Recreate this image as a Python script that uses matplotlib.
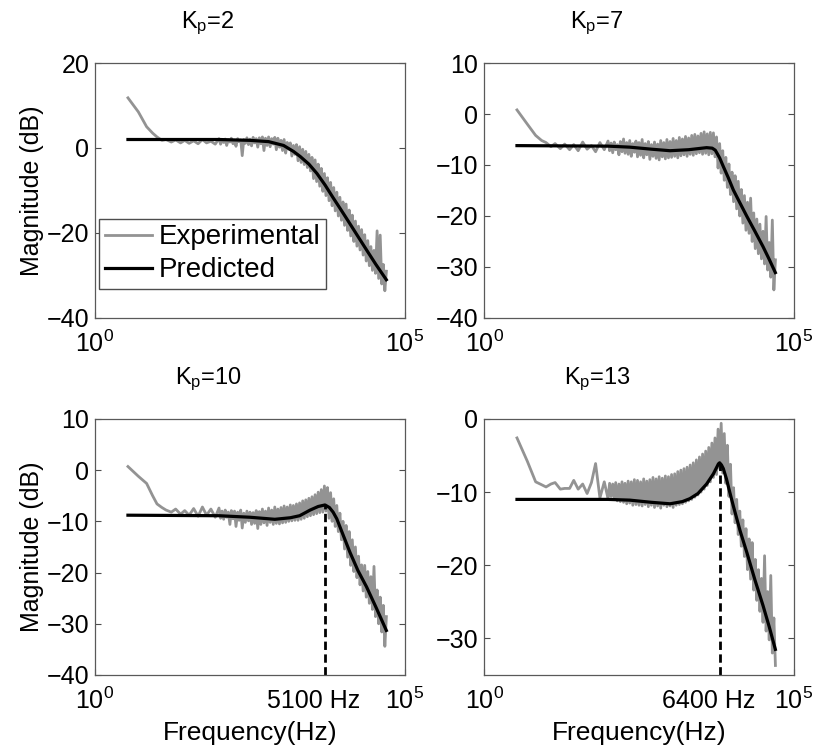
import matplotlib.pyplot as plt
from matplotlib.ticker import NullLocator
from matplotlib import transforms

plt.rcParams['font.family'] = ['Liberation Sans', 'DejaVu Sans']
plt.rcParams['mathtext.fontset'] = 'custom'
plt.rcParams['mathtext.rm'] = 'Liberation Sans'
plt.rcParams['mathtext.it'] = 'Liberation Sans:italic'

# frequency bins of the measured responses (Hz)
freq_exp = [3.4, 5, 6.8, 8.5, 10, 12, 14, 17, 20, 24, 28, 33, 39, 46, 54, 63, 74, 87,
            100, 106, 112, 119, 126, 133, 141, 150, 158, 168,
            178, 188, 200, 211, 224, 237, 251, 266, 282, 299,
            316, 335, 355, 376, 398, 422, 447, 473, 501, 531,
            562, 596, 631, 668, 708, 750, 794, 841, 891, 944,
            1000, 1059, 1122, 1189, 1259, 1334, 1413, 1496, 1585, 1679,
            1778, 1884, 1995, 2113, 2239, 2371, 2512, 2661, 2818, 2985,
            3162, 3350, 3548, 3758, 3981, 4217, 4467, 4732, 5012, 5309,
            5623, 5957, 6310, 6683, 7079, 7499, 7943, 8414, 8913, 9441,
            10000, 10593, 11220, 11885, 12589, 13335, 14125, 14962, 15849, 16788,
            17783, 18836, 19953, 21135, 22387, 23714, 25119, 26607, 28184, 29854,
            31623, 33497, 35481, 37584, 39811, 42170, 44668, 47315, 50119]

# measured magnitude (dB)
exp_kp2 = [11.8, 8.5, 5.0, 3.5, 2.6, 1.8, 2.0, 1.4, 1.9, 1.2, 1.8, 1.1, 1.7, 1.0, 2.0, 1.2, 1.6, 0.9,
           2.2, 0.9, 1.8, 1.3, 2.1, 0.6, 1.9, 1.4, 2.3, 1.0,
           1.7, 0.4, 2.2, 1.5, 1.9, -1.8, 2.0, 1.1, 2.4, 0.8,
           2.1, 0.5, 2.5, 1.2, 2.2, 0.2, 2.4, 1.0, 2.6, -0.6,
           2.3, 0.6, 2.6, 0.3, 2.2, 0.9, 2.5, -0.4, 2.3, 0.2,
           1.8, -0.6, 2.0, -1.2, 1.3, -0.3, 1.2, -1.9, 0.6, -1.5,
           0.8, -3.0, 0.3, -3.4, -0.3, -3.9, -0.8, -4.6, -1.5, -5.4,
           -2.2, -7.2, -2.8, -7.9, -3.8, -9.0, -4.8, -10.2, -6.0, -11.2,
           -7.0, -12.4, -8.1, -13.6, -9.3, -14.8, -10.4, -16.0, -11.6, -17.0,
           -12.7, -18.2, -13.2, -19.4, -14.6, -20.7, -15.8, -22.0, -17.2, -23.1,
           -18.4, -24.0, -19.2, -25.2, -20.4, -26.6, -21.8, -27.7, -23.2, -28.8,
           -24.1, -29.5, -19.5, -30.7, -20.5, -32.0, -27.4, -33.6, -29.0]
exp_kp7 = [0.8, -2.0, -4.2, -5.2, -5.6, -6.4, -5.8, -6.8, -5.9, -7.0, -6.0, -7.2, -5.5, -6.9, -6.2, -7.4, -5.6, -7.0,
           -5.3, -7.2, -5.7, -7.6, -5.5, -7.0, -6.0, -8.0, -5.4, -7.4,
           -4.9, -7.7, -5.6, -7.9, -5.2, -8.3, -5.8, -7.5, -5.3, -8.4,
           -5.6, -8.1, -5.0, -8.6, -5.8, -8.0, -5.4, -8.9, -6.0, -8.3,
           -5.5, -8.7, -5.9, -9.0, -5.2, -8.4, -5.6, -8.8, -5.0, -8.6,
           -5.4, -8.5, -4.8, -8.3, -5.2, -8.6, -4.6, -8.2, -4.9, -8.0,
           -4.4, -8.3, -4.7, -7.9, -4.2, -8.1, -4.0, -7.8, -4.3, -7.6,
           -3.8, -7.9, -3.5, -7.7, -3.9, -8.0, -3.6, -7.8, -3.7, -8.4,
           -4.5, -10.6, -5.8, -11.6, -7.2, -13.0, -8.5, -14.4, -9.8, -15.8,
           -11.4, -17.2, -12.1, -18.6, -13.2, -20.0, -14.8, -21.4, -16.0, -22.8,
           -17.3, -23.4, -16.5, -25.0, -19.4, -26.4, -20.6, -27.4, -21.6, -28.4,
           -23.0, -29.4, -20.1, -30.6, -25.2, -32.0, -20.8, -34.5, -28.6]
exp_kp10 = [0.7, -1.2, -2.6, -5.0, -6.6, -7.3, -7.8, -8.2, -7.6, -8.6, -7.9, -8.8, -7.5, -9.0, -7.2, -8.8, -7.6, -9.2,
            -7.4, -9.4, -8.0, -9.6, -7.8, -9.2, -8.2, -10.6, -7.9, -9.5,
            -8.0, -11.0, -8.2, -9.8, -7.8, -11.3, -8.4, -10.2, -8.0, -9.9,
            -8.2, -10.6, -8.3, -10.4, -7.9, -11.4, -8.1, -10.6, -7.6, -10.3,
            -8.0, -10.8, -7.4, -10.2, -7.8, -10.6, -7.2, -10.4, -7.6, -10.5,
            -7.3, -10.3, -7.0, -10.2, -7.2, -10.0, -6.8, -9.9, -6.9, -9.8,
            -6.6, -9.8, -6.4, -9.6, -6.0, -9.4, -5.8, -9.1, -5.5, -8.9,
            -5.2, -8.7, -4.8, -8.5, -4.3, -8.3, -3.8, -8.2, -3.1, -8.0,
            -3.4, -9.4, -4.4, -10.0, -5.6, -11.0, -6.9, -12.0, -8.4, -13.6,
            -10.0, -15.4, -10.8, -17.0, -12.0, -18.6, -13.6, -19.8, -15.0, -21.0,
            -16.8, -22.4, -18.5, -23.6, -18.6, -24.8, -19.8, -26.0, -20.8, -27.2,
            -18.8, -28.6, -23.4, -30.0, -24.8, -31.6, -26.4, -34.4, -28.6]
exp_kp13 = [-2.6, -5.8, -8.6, -9.0, -9.3, -8.9, -8.7, -9.6, -9.5, -9.5, -8.4, -9.6, -8.9, -10.2, -8.7, -6.1, -10.8, -8.6,
            -10.9, -8.8, -10.6, -8.9, -11.0, -8.7, -11.2, -8.9, -11.3, -8.6,
            -11.4, -8.8, -11.6, -8.5, -11.5, -8.6, -11.8, -8.3, -11.7, -8.4,
            -11.8, -8.6, -11.9, -8.2, -11.7, -8.5, -12.0, -8.3, -11.8, -8.0,
            -12.1, -8.2, -11.9, -7.9, -12.2, -8.1, -11.8, -7.8, -12.0, -7.9,
            -11.9, -7.6, -12.1, -7.5, -11.8, -7.2, -11.7, -7.0, -11.6, -6.8,
            -11.4, -6.6, -11.2, -6.3, -11.0, -6.0, -10.7, -5.6, -10.4, -5.2,
            -10.0, -4.8, -9.6, -4.4, -9.1, -3.9, -8.6, -3.3, -8.0, -2.6,
            -7.6, -1.4, -6.8, -0.6, -7.4, -2.0, -8.8, -3.6, -10.6, -6.2,
            -13.0, -9.4, -14.2, -11.0, -15.8, -12.6, -17.4, -13.8, -18.8, -15.0,
            -20.6, -16.4, -21.9, -16.9, -23.4, -19.2, -24.8, -20.6, -26.3, -21.8,
            -27.8, -18.7, -29.0, -23.6, -30.2, -21.4, -32.0, -27.2, -33.7]

# model prediction
pred_f_kp2 = [3.4, 100, 316, 631, 1100, 1585, 2040, 2820, 3800, 5130, 6920, 9330, 12900,
              17400, 24000, 33900, 50000]
pred_kp2 = [2.0, 2.0, 1.8, 1.5, 0.6, -0.8, -2.0, -3.8, -6.0, -8.7, -11.7, -14.6, -17.8,
            -20.8, -24.0, -27.4, -31.0]
pred_f_kp7 = [3.4, 100, 224, 501, 1000, 2000, 3890, 4790, 5370, 6310, 7240, 8710, 10500,
              13500, 17400, 23400, 31600, 39800, 50000]
pred_kp7 = [-6.2, -6.3, -6.5, -6.9, -7.2, -7.0, -6.6, -6.7, -7.1, -8.6, -10.3, -12.5,
            -14.9, -17.5, -20.1, -23.0, -26.0, -28.5, -31.1]
pred_f_kp10 = [3.4, 100, 316, 794, 1410, 2000, 2950, 3980, 5130, 6030, 6920, 7940, 10000,
               12900, 17400, 24000, 34700, 50000]
pred_kp10 = [-8.8, -8.9, -9.2, -9.6, -9.3, -8.9, -7.8, -7.1, -6.8, -7.3, -8.2, -9.5,
             -12.6, -16.0, -19.6, -22.8, -27.0, -31.3]
pred_f_kp13 = [3.4, 100, 224, 501, 1000, 1585, 2090, 2820, 3890, 5010, 5750, 6030, 6310,
               6760, 7240, 8130, 9120, 10500, 13500, 17400, 23400, 31600, 39800, 50000]
pred_kp13 = [-11.0, -11.0, -11.1, -11.4, -11.6, -11.3, -10.9, -10.2, -8.9, -7.5, -6.5,
             -6.15, -6.0, -6.3, -6.8, -8.2, -9.9, -11.9, -15.3, -18.3, -22.0, -25.5,
             -28.4, -31.5]

titles = [r'K$_{\rm p}$=2', r'K$_{\rm p}$=7', r'K$_{\rm p}$=10', r'K$_{\rm p}$=13']
resonance = [None, None, 5100, 6400]

fig = plt.figure(figsize=(8.19, 7.51), dpi=100)
positions = [[0.116, 0.5766, 0.3785, 0.3395], [0.591, 0.5766, 0.3785, 0.3395],
             [0.116, 0.1012, 0.3785, 0.341], [0.591, 0.1012, 0.3785, 0.341]]
ylims = [(-40, 20), (-40, 10), (-40, 10), (-35, 0)]
yticks = [[-40, -20, 0, 20], [-40, -30, -20, -10, 0, 10],
          [-40, -30, -20, -10, 0, 10], [-30, -20, -10, 0]]
exps = [exp_kp2, exp_kp7, exp_kp10, exp_kp13]
preds = [(pred_f_kp2, pred_kp2), (pred_f_kp7, pred_kp7),
         (pred_f_kp10, pred_kp10), (pred_f_kp13, pred_kp13)]

for i in range(4):
    ax = fig.add_axes(positions[i])
    ax.semilogx(freq_exp, exps[i], color='#939393', lw=2, label='Experimental')
    ax.semilogx(preds[i][0], preds[i][1], color='black', lw=2.3, label='Predicted')
    ax.set_xlim(1, 1e5)
    ax.set_ylim(*ylims[i])
    ax.set_yticks(yticks[i])
    ax.set_xticks([1, 1e5])
    ax.set_xticklabels([r'$10^0$', r'$10^5$'])
    ax.xaxis.set_minor_locator(NullLocator())
    ax.tick_params(direction='in', right=True, labelsize=18, length=4, width=0.8,
                   color='0.3', pad=4)
    ax.tick_params(axis='x', pad=9)
    for s in ax.spines.values():
        s.set_color('0.35')
        s.set_linewidth(0.9)
    ax.set_title(titles[i], fontsize=17, x=0.365, pad=25)

    if i % 2 == 0:
        ax.set_ylabel('Magnitude (dB)', fontsize=18, labelpad=2)
    if i >= 2:
        ax.set_xlabel('Frequency(Hz)', fontsize=19, labelpad=5)

    if resonance[i] is not None:
        peak = max(preds[i][1])
        ax.vlines(resonance[i], ylims[i][0], peak, colors='black', lw=2,
                  linestyles=(0, (3, 1.6)))
        trans = transforms.blended_transform_factory(ax.transData, ax.transAxes)
        ax.annotate('%d Hz' % resonance[i], xy=(resonance[i], 0), xycoords=trans,
                    xytext=(-8, -10), textcoords='offset points', ha='center', va='top',
                    fontsize=18)

    if i == 0:
        ax.legend(loc='lower left', bbox_to_anchor=(0.013, 0.114), fontsize=20,
                  fancybox=False, edgecolor='0.3', framealpha=1, handlelength=1.7,
                  handletextpad=0.25, borderpad=0.2, labelspacing=0.25,
                  borderaxespad=0)

fig.savefig('out.png', dpi=100)
